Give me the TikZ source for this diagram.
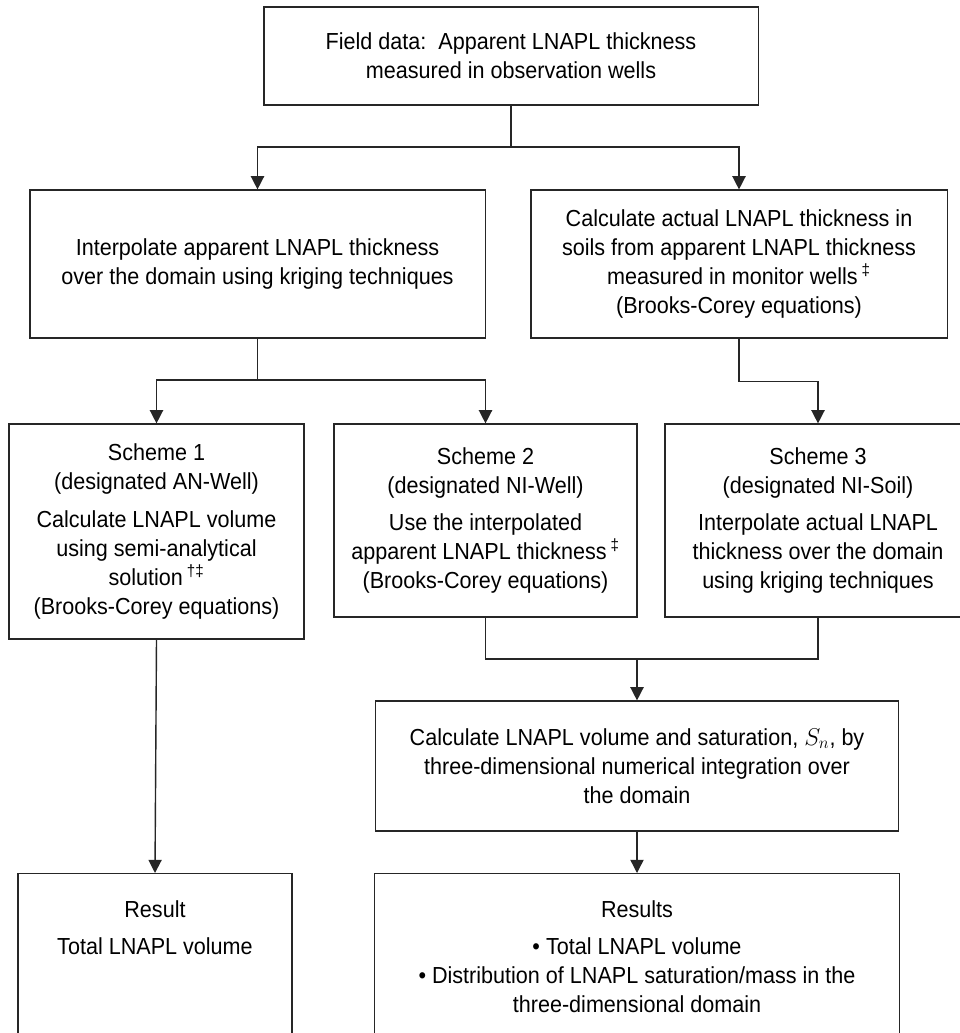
\documentclass[tikz,border=0pt]{standalone}
\usepackage{fontspec}
\setmainfont{Liberation Sans}[FakeStretch=0.93]
\usetikzlibrary{positioning}
\usetikzlibrary{arrows.meta}

\tikzset{
  box/.style={draw=black!85, line width=0.8pt, align=center, inner sep=0pt, font=\fontsize{16.5}{20.6}\selectfont},
  txt/.style={align=center, inner sep=0pt, font=\fontsize{16.5}{20.6}\selectfont},
  link/.style={draw=black!85, line width=1pt},
  arr/.style={link, -{Triangle[width=0.33cm,length=0.33cm]}}
}

\begin{document}
\begin{tikzpicture}[x=0.025cm,y=-0.025cm]
\useasboundingbox (0,0) rectangle (960,1033);
\clip (0,0) rectangle (960,1033);

\node[box,minimum width=12.35cm,minimum height=2.45cm] (field) at (511,56) {Field data:~~Apparent LNAPL thickness\\measured in observation wells};
\node[box,minimum width=11.375cm,minimum height=3.7cm] (interp) at (257.5,264) {Interpolate apparent LNAPL thickness\\over the domain using kriging techniques};
\node[box,minimum width=10.4cm,minimum height=3.7cm] (actual) at (739,264) {Calculate actual LNAPL thickness in\\soils from apparent LNAPL thickness\\measured in monitor wells\,\textsuperscript{\textdaggerdbl}\\(Brooks-Corey equations)};

\node[box,minimum width=7.375cm,minimum height=5.375cm] (scheme1) at (156.5,531.5) {Scheme 1\\(designated AN-Well)\\[6pt]Calculate LNAPL volume\\using semi-analytical\\solution\,\textsuperscript{\textdagger\textdaggerdbl}\\(Brooks-Corey equations)};
\node[box,minimum width=7.575cm,minimum height=4.825cm] (scheme2) at (485.5,520.5) {Scheme 2\\(designated NI-Well)\\[6pt]Use the interpolated\\apparent LNAPL thickness\,\textsuperscript{\textdaggerdbl}\\(Brooks-Corey equations)};
\node[box,minimum width=7.65cm,minimum height=4.825cm] (scheme3) at (818,520.5) {Scheme 3\\(designated NI-Soil)\\[6pt]Interpolate actual LNAPL\\thickness over the domain\\using kriging techniques};

\node[box,minimum width=13.075cm,minimum height=3.25cm] (calc) at (637,766) {Calculate LNAPL volume and saturation, $S_n$, by\\three-dimensional numerical integration over\\the domain};

\node[box,anchor=north,minimum width=6.85cm,minimum height=4.5cm] (res1) at (155,873) {};
\node[txt,below=0.68cm of res1.north] (res1txt) {Result\\[6pt]Total LNAPL volume};
\node[box,anchor=north,minimum width=13.125cm,minimum height=4.5cm] (res3) at (637,873) {};
\node[txt,below=0.68cm of res3.north] (res3txt) {Results\\[6pt]\textbullet\ Total LNAPL volume\\\textbullet\ Distribution of LNAPL saturation/mass in the\\three-dimensional domain};

\coordinate (j1) at (511,147);
\coordinate (j2) at (257.5,380);
\coordinate (j3) at (637,659);

\draw[link] (field.south) -- (j1);
\draw[arr] (j1) -| (interp.north);
\draw[arr] (j1) -| (actual.north);
\draw[link] (interp.south) -- (j2);
\draw[arr] (j2) -| (scheme1.north);
\draw[arr] (j2) -| (scheme2.north);
\draw[arr] (actual.south) -- ++(0,43) -| (scheme3.north);
\draw[link] (scheme2.south) |- (j3) -| (scheme3.south);
\draw[arr] (j3) -- (calc.north);
\draw[arr] (scheme1.south) -- (res1.north);
\draw[arr] (calc.south) -- (res3.north);

\end{tikzpicture}
\end{document}
